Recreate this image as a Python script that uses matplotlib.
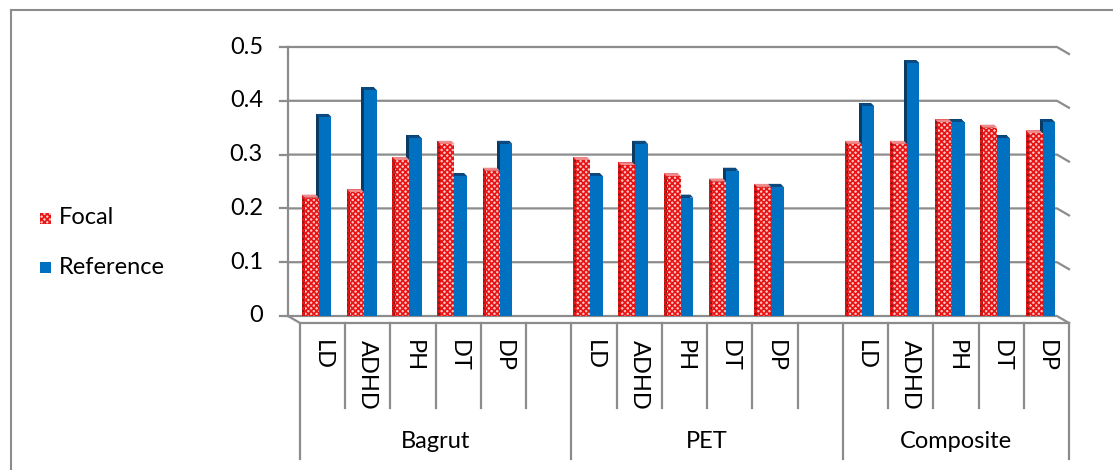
import numpy as np
import matplotlib
matplotlib.use("Agg")
import matplotlib.pyplot as plt
from matplotlib.patches import Rectangle, Polygon
from matplotlib.lines import Line2D

plt.rcParams['font.family'] = ['Lato', 'DejaVu Sans']
plt.rcParams['hatch.linewidth'] = 1.2

# data
groups = ['Bagrut', 'PET', 'Composite']
cats = ['LD', 'ADHD', 'PH', 'DT', 'DP']
focal = [[0.22, 0.23, 0.29, 0.32, 0.27],
         [0.29, 0.28, 0.26, 0.25, 0.24],
         [0.32, 0.32, 0.36, 0.35, 0.34]]
reference = [[0.37, 0.42, 0.33, 0.26, 0.32],
             [0.26, 0.32, 0.22, 0.27, 0.24],
             [0.39, 0.47, 0.36, 0.33, 0.36]]
yticks = [0, 0.1, 0.2, 0.3, 0.4, 0.5]

W, H = 1113, 470
fig = plt.figure(figsize=(W / 100, H / 100), dpi=100)
ax = fig.add_axes([288 / W, (H - 316) / H, 769 / W, 269 / H])
nslots = 17
ax.set_xlim(0, nslots)
ax.set_ylim(0, 0.5)
ax.axis('off')

sx = nslots / 769   # data per pixel
sy = 0.5 / 269
grey = '#8c8c8c'
fs = 17

# back wall grid + 3D floor
for v in yticks:
    ax.plot([0, nslots, nslots + 12 * sx], [v, v, v - 7 * sy], color=grey, lw=1.6,
            clip_on=False, zorder=1, solid_joinstyle='miter')
    ax.plot([-8 * sx, 0], [v, v], color=grey, lw=1.6, clip_on=False)
    ax.text(-25 * sx, v, f'{v:g}', ha='right', va='center', fontsize=fs)
ax.plot([0, 0], [0, 0.5], color=grey, lw=1.6, clip_on=False)
ax.plot([0, 12 * sx, nslots + 12 * sx], [0, -7 * sy, -7 * sy], color=grey, lw=1.6,
        clip_on=False)

# category boxes
for i in range(nslots + 1):
    outer = i in (0, 6, 12, 17)
    bot = -143 * sy if outer else -92 * sy
    ax.plot([i + 12 * sx] * 2, [-7 * sy, bot], color=grey, lw=1.6, clip_on=False)
for g, name in enumerate(groups):
    for j, c in enumerate(cats):
        ax.text(g * 6 + j + 0.5 + 12 * sx, -24 * sy, c, rotation=-90, ha='center',
                va='top', fontsize=fs)
    end = min(g * 6 + 6, nslots)
    ax.text((g * 6 + end) / 2 + 12 * sx, -125 * sy, name, ha='center', va='center',
            fontsize=fs)

# bars
base = -5 * sy
dx, dy = 3 * sx, 3 * sy


def bar3d(x0, w, v, front, side, top, hatch=None, hcol=None, z=3):
    ax.bar(x0 - dx, v - base, width=w, bottom=base + dy, align='edge', color=side,
           edgecolor=hcol if hatch else side, hatch=hatch, lw=0, zorder=z)
    ax.add_patch(Polygon([(x0, v), (x0 + w, v), (x0 + w - dx, v + dy), (x0 - dx, v + dy)],
                         closed=True, facecolor=top, edgecolor='none', zorder=z + 0.5))
    ax.bar(x0, v - base, width=w, bottom=base, align='edge', color=front,
           edgecolor=hcol if hatch else front, hatch=hatch, lw=0, zorder=z + 1)


for g in range(3):
    for j in range(5):
        s = g * 6 + j
        bar3d(s + 0.68, 0.28, reference[g][j], '#0070c0', '#0b3b63', '#0a4a80', z=3)
        bar3d(s + 0.37, 0.31, focal[g][j], '#ffc4c4', '#7a1c1c', '#f08a8a',
              hatch='xxxxxx', hcol='#e81414', z=6)

# legend
def fx(px):
    return px / W


def fy(py):
    return 1 - py / H


fig.add_artist(Rectangle((fx(40), fy(224)), 11 / W, 11 / H, transform=fig.transFigure,
                         facecolor='#ffc4c4', edgecolor='#e81414', hatch='xxxxxx', lw=0))
fig.add_artist(Rectangle((fx(40), fy(273)), 11 / W, 11 / H, transform=fig.transFigure,
                         facecolor='#0070c0', edgecolor='none'))
fig.text(fx(59), fy(218), 'Focal', ha='left', va='center', fontsize=fs)
fig.text(fx(59), fy(267), 'Reference', ha='left', va='center', fontsize=fs)

# chart border
fig.add_artist(Line2D([fx(11), fx(11)], [fy(10), 0], color=grey, lw=1.5,
                      transform=fig.transFigure))
fig.add_artist(Line2D([fx(11), 1], [fy(10), fy(10)], color=grey, lw=1.5,
                      transform=fig.transFigure))

fig.savefig('out.png', dpi=100, facecolor='white')
